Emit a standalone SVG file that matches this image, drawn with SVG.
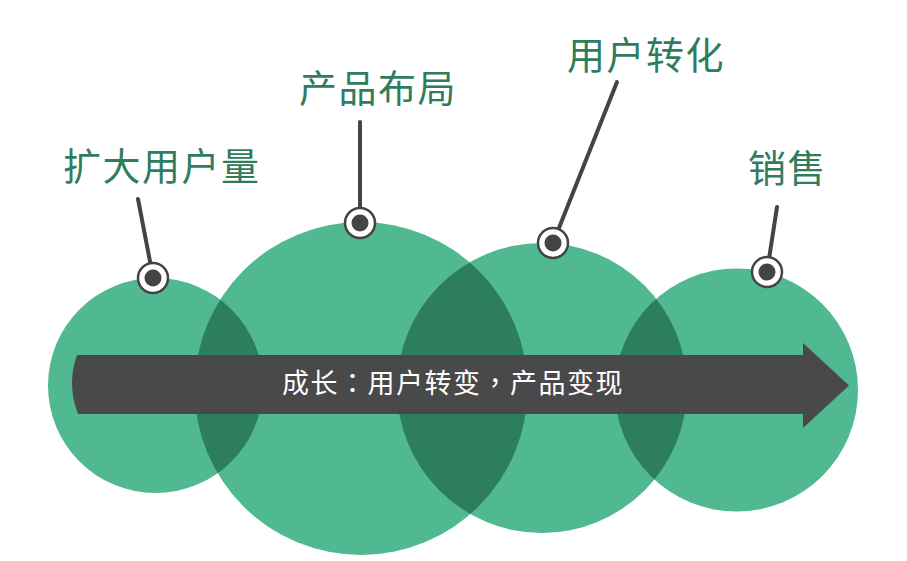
<svg xmlns="http://www.w3.org/2000/svg" width="907" height="561" viewBox="0 0 907 561">
<style>
.c{fill:#50B992}
.lens{fill:#2D7E5F}
.lbl{font-family:"Noto Sans CJK SC","Noto Sans",sans-serif;font-size:38px;fill:#2F7D5E;letter-spacing:1.5px}
.band{font-family:"Noto Sans CJK TC","Noto Sans CJK SC",sans-serif;font-size:27px;fill:#FFFFFF;letter-spacing:1.5px}
.lead{stroke:#444444;stroke-width:4;stroke-linecap:round;fill:none}
.ring{fill:#FFFFFF;stroke:#444444;stroke-width:2.5}
.dot{fill:#444444}
</style>
<defs>
<clipPath id="k1"><circle cx="155.5" cy="385.5" r="107.5"/></clipPath>
<clipPath id="k2"><circle cx="361" cy="388.5" r="166.5"/></clipPath>
<clipPath id="k3"><circle cx="542" cy="388" r="145"/></clipPath>
</defs>
<g id="circles">
<circle id="c1" class="c" cx="155.5" cy="385.5" r="107.5"/>
<circle id="c2" class="c" cx="361" cy="388.5" r="166.5"/>
<circle id="c3" class="c" cx="542" cy="388" r="145"/>
<circle id="c4" class="c" cx="736.5" cy="390" r="121.5"/>
<circle class="lens" cx="361" cy="388.5" r="166.5" clip-path="url(#k1)"/>
<circle class="lens" cx="542" cy="388" r="145" clip-path="url(#k2)"/>
<circle class="lens" cx="736.5" cy="390" r="121.5" clip-path="url(#k3)"/>
</g>
<g id="arrow">
<path d="M77,355 L803,355 L803,343 L849,385.5 L803,428 L803,414 L78,414 Q66.5,384.5 77,355 Z" fill="#494949"/>
<text class="band" x="282" y="393">成长：用户转变，产品变现</text>
</g>
<g id="connectors">
<line class="lead" x1="138" y1="199" x2="153" y2="277"/>
<line class="lead" x1="360" y1="122" x2="360" y2="223"/>
<line class="lead" x1="617" y1="82" x2="553" y2="243"/>
<line class="lead" x1="777" y1="207" x2="767" y2="272"/>
</g>
<g id="n1">
<text class="lbl" x="63" y="180">扩大用户量</text>
<circle class="ring" cx="153" cy="278" r="15"/><circle class="dot" cx="153" cy="278" r="8.5"/>
</g>
<g id="n2">
<text class="lbl" x="299" y="102">产品布局</text>
<circle class="ring" cx="360" cy="223" r="15"/><circle class="dot" cx="360" cy="223" r="8.5"/>
</g>
<g id="n3">
<text class="lbl" x="567" y="69">用户转化</text>
<circle class="ring" cx="553" cy="243" r="15"/><circle class="dot" cx="553" cy="243" r="8.5"/>
</g>
<g id="n4">
<text class="lbl" x="748" y="182">销售</text>
<circle class="ring" cx="767" cy="272" r="15"/><circle class="dot" cx="767" cy="272" r="8.5"/>
</g>
</svg>
